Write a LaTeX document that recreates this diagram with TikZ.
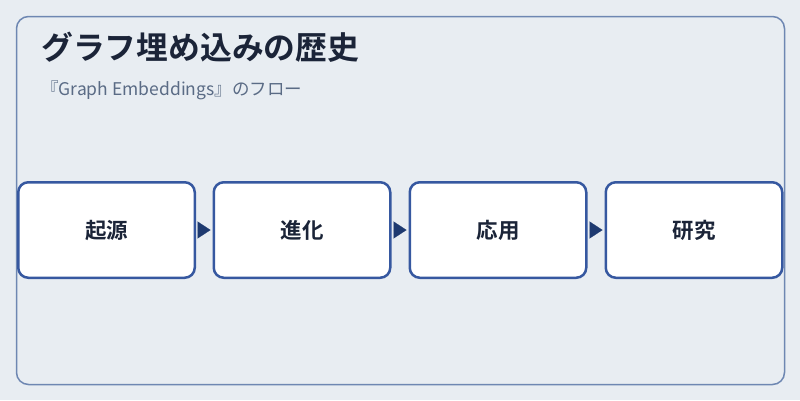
\documentclass[tikz,border=0pt]{standalone}
\usepackage{fontspec}
\setmainfont{Noto Sans CJK JP}
\newfontfamily\cjkbold{Noto Sans CJK JP Bold}
\usetikzlibrary{arrows.meta}
\definecolor{bgc}{HTML}{E8EDF2}
\definecolor{framec}{HTML}{6E87B2}
\definecolor{boxc}{HTML}{3658A0}
\definecolor{arrc}{HTML}{1E3A70}
\definecolor{titlec}{HTML}{1B2438}
\definecolor{subc}{HTML}{5A6B85}
\tikzset{
  stepbox/.style={draw=boxc, line width=2.5pt, fill=white, rounded corners=10pt,
    minimum width=176.5pt, minimum height=95.5pt, inner sep=0pt,
    font=\cjkbold\fontsize{21.5pt}{24pt}\selectfont, text=titlec},
  flowarrow/.style={draw=arrc, line width=0.1pt, -{Triangle[length=13pt,width=17pt]}, fill=arrc, shorten >=2pt, shorten <=2pt}
}
\begin{document}
\begin{tikzpicture}[x=1pt,y=-1pt]
\useasboundingbox (0,0) rectangle (800,400);
\fill[bgc] (0,0) rectangle (800,400);
\draw[framec, line width=1.5pt, rounded corners=12pt] (16.5,16.5) rectangle (784.5,384.5);
\node[anchor=base west, inner sep=0pt, text=titlec, font=\cjkbold\fontsize{31.8pt}{34pt}\selectfont] (title) at (41,59.5) {グラフ埋め込みの歴史};
\node[anchor=base west, inner sep=0pt, text=subc, font=\fontsize{17.5pt}{20pt}\selectfont] (sub) at (41,95) {『Graph Embeddings』のフロー};
\node[stepbox] (b1) at (106.5,230) {起源};
\node[stepbox] (b2) at (302,230) {進化};
\node[stepbox] (b3) at (498,230) {応用};
\node[stepbox] (b4) at (694,230) {研究};
\draw[flowarrow] (b1.east) -- (b2.west);
\draw[flowarrow] (b2.east) -- (b3.west);
\draw[flowarrow] (b3.east) -- (b4.west);
\end{tikzpicture}
\end{document}
